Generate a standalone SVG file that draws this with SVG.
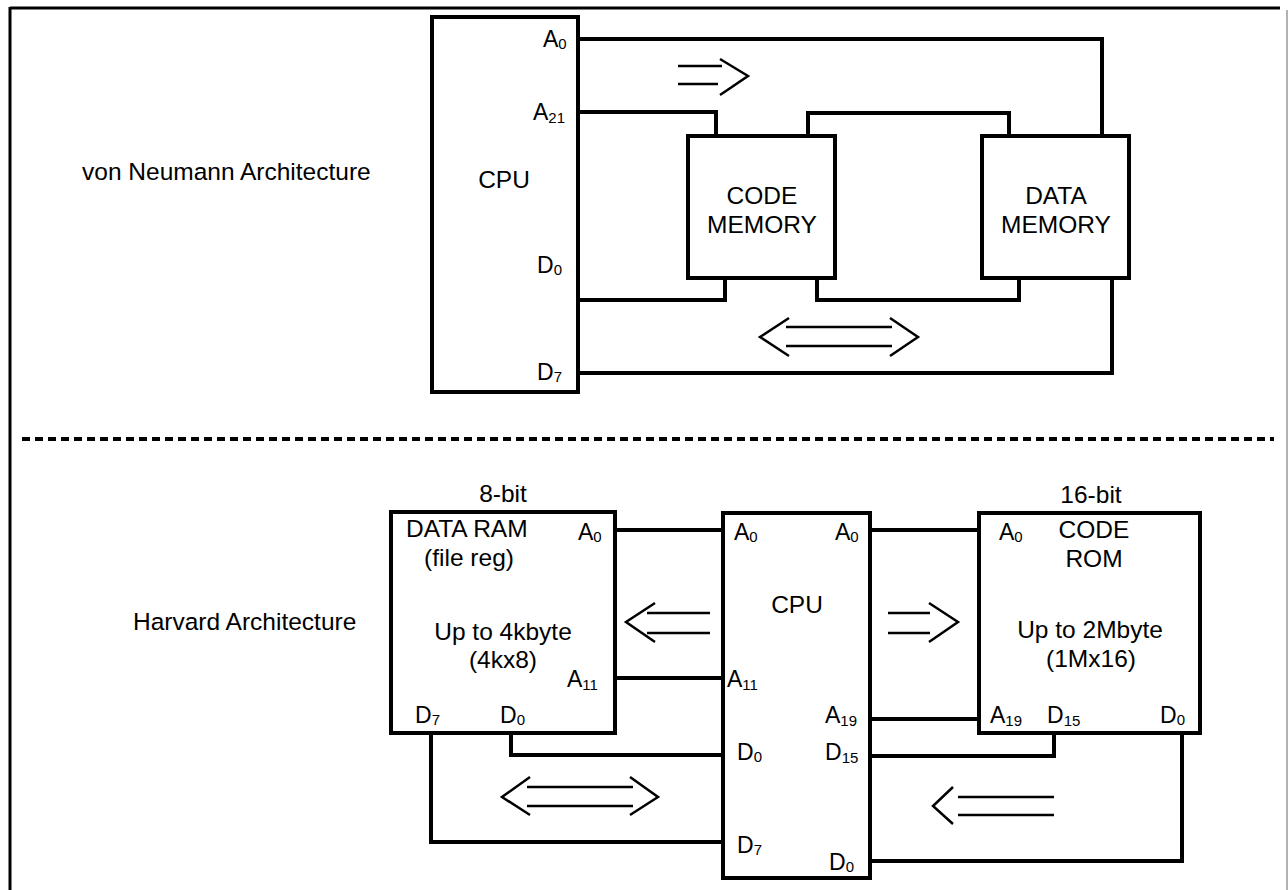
<svg xmlns="http://www.w3.org/2000/svg" width="1288" height="890" viewBox="0 0 1288 890">
<style>
  .box{fill:#fff;stroke:#000;stroke-width:4}
  .bus{fill:none;stroke:#000;stroke-width:4;stroke-linejoin:miter;stroke-linecap:square}
  .arr{fill:none;stroke:#000;stroke-width:2.5;stroke-linecap:butt;stroke-linejoin:miter}
  text{font-family:"Liberation Sans",Arial,sans-serif;fill:#000}
  .t{font-size:24.5px}
  .m{font-size:24.5px;text-anchor:middle}
  .p{font-size:23px}
  .s{font-size:15px}
</style>
<rect width="1288" height="890" fill="#fff"/>
<!-- frame -->
<g id="frame">
  <line x1="10" y1="8" x2="1280" y2="8" stroke="#000" stroke-width="3"/>
  <line x1="10" y1="7" x2="10" y2="890" stroke="#000" stroke-width="3"/>
  <line x1="1287" y1="10" x2="1287" y2="890" stroke="#999" stroke-width="1.5"/>
  <line x1="22" y1="439" x2="1274" y2="439" stroke="#000" stroke-width="4" stroke-dasharray="8 5"/>
</g>
<text class="t" x="82" y="180">von Neumann Architecture</text>
<text class="t" x="133" y="630">Harvard Architecture</text>

<!-- connectors -->
<g id="connectors">
  <!-- von Neumann -->
  <polyline class="bus" points="578,39 1102,39 1102,136"/>
  <polyline class="bus" points="578,112 716,112 716,136"/>
  <polyline class="bus" points="808,136 808,113 1009,113 1009,136"/>
  <polyline class="bus" points="578,300 725,300 725,278"/>
  <polyline class="bus" points="817,278 817,300 1019,300 1019,278"/>
  <polyline class="bus" points="578,373 1112,373 1112,278"/>
  <!-- Harvard -->
  <line class="bus" x1="615" y1="530" x2="723" y2="530"/>
  <line class="bus" x1="870" y1="530" x2="979" y2="530"/>
  <line class="bus" x1="615" y1="678" x2="723" y2="678"/>
  <polyline class="bus" points="511,733 511,755 723,755"/>
  <polyline class="bus" points="431,733 431,842 723,842"/>
  <line class="bus" x1="870" y1="719" x2="979" y2="719"/>
  <polyline class="bus" points="870,756 1054,756 1054,733"/>
  <polyline class="bus" points="870,861 1182,861 1182,733"/>
  <!-- direction arrows -->
  <g id="arrow-vn-addr">
    <line class="arr" x1="678" y1="66" x2="722" y2="66"/>
    <line class="arr" x1="678" y1="84" x2="718" y2="84"/>
    <polyline class="arr" points="720,59 748,76 720,95"/>
  </g>
  <g id="arrow-vn-data">
    <line class="arr" x1="786" y1="327" x2="892" y2="327"/>
    <line class="arr" x1="786" y1="346" x2="892" y2="346"/>
    <polyline class="arr" points="789,318 760,337 789,356"/>
    <polyline class="arr" points="890,318 918,337 890,356"/>
  </g>
  <g id="arrow-h-ram-addr">
    <line class="arr" x1="647" y1="613" x2="710" y2="613"/>
    <line class="arr" x1="647" y1="633" x2="710" y2="633"/>
    <polyline class="arr" points="655,603 626,622 655,642"/>
  </g>
  <g id="arrow-h-rom-addr">
    <line class="arr" x1="888" y1="613" x2="930" y2="613"/>
    <line class="arr" x1="888" y1="633" x2="930" y2="633"/>
    <polyline class="arr" points="929,603 958,622 929,642"/>
  </g>
  <g id="arrow-h-ram-data">
    <line class="arr" x1="527" y1="787" x2="633" y2="787"/>
    <line class="arr" x1="527" y1="806" x2="633" y2="806"/>
    <polyline class="arr" points="530,777 502,797 530,815"/>
    <polyline class="arr" points="630,777 658,797 630,815"/>
  </g>
  <g id="arrow-h-rom-data">
    <line class="arr" x1="958" y1="797" x2="1054" y2="797"/>
    <line class="arr" x1="958" y1="815" x2="1054" y2="815"/>
    <polyline class="arr" points="953,787 933,806 953,824"/>
  </g>
</g>

<!-- von Neumann nodes -->
<g id="vn-cpu">
  <rect class="box" x="432" y="17" width="146" height="375"/>
  <text class="m" x="504" y="188">CPU</text>
  <text class="p" x="543" y="47">A<tspan class="s" dy="2">0</tspan></text>
  <text class="p" x="533" y="120">A<tspan class="s" dy="3">21</tspan></text>
  <text class="p" x="537" y="273">D<tspan class="s" dy="2">0</tspan></text>
  <text class="p" x="537" y="380">D<tspan class="s" dy="2">7</tspan></text>
</g>
<g id="vn-code-memory">
  <rect class="box" x="688" y="136" width="147" height="142"/>
  <text class="m" x="762" y="204">CODE</text>
  <text class="m" x="762" y="233">MEMORY</text>
</g>
<g id="vn-data-memory">
  <rect class="box" x="982" y="136" width="147" height="142"/>
  <text class="m" x="1056" y="204">DATA</text>
  <text class="m" x="1056" y="233">MEMORY</text>
</g>

<!-- Harvard nodes -->
<g id="h-data-ram">
  <rect class="box" x="391" y="512" width="224" height="221"/>
  <text class="m" x="503" y="502">8-bit</text>
  <text class="t" x="406" y="537">DATA RAM</text>
  <text class="m" x="469" y="566">(file reg)</text>
  <text class="m" x="503" y="640">Up to 4kbyte</text>
  <text class="m" x="503" y="668">(4kx8)</text>
  <text class="p" x="578" y="540">A<tspan class="s" dy="2">0</tspan></text>
  <text class="p" x="567" y="687">A<tspan class="s" dy="3">11</tspan></text>
  <text class="p" x="415" y="723">D<tspan class="s" dy="2">7</tspan></text>
  <text class="p" x="500" y="723">D<tspan class="s" dy="2">0</tspan></text>
</g>
<g id="h-cpu">
  <rect class="box" x="723" y="513" width="147" height="365"/>
  <text class="m" x="797" y="613">CPU</text>
  <text class="p" x="734" y="540">A<tspan class="s" dy="2">0</tspan></text>
  <text class="p" x="835" y="540">A<tspan class="s" dy="2">0</tspan></text>
  <text class="p" x="727" y="687">A<tspan class="s" dy="3">11</tspan></text>
  <text class="p" x="737" y="760">D<tspan class="s" dy="2">0</tspan></text>
  <text class="p" x="737" y="853">D<tspan class="s" dy="2">7</tspan></text>
  <text class="p" x="825" y="723">A<tspan class="s" dy="3">19</tspan></text>
  <text class="p" x="825" y="760">D<tspan class="s" dy="3">15</tspan></text>
  <text class="p" x="829" y="870">D<tspan class="s" dy="2">0</tspan></text>
</g>
<g id="h-code-rom">
  <rect class="box" x="979" y="513" width="221" height="220"/>
  <text class="m" x="1091" y="503">16-bit</text>
  <text class="m" x="1094" y="538">CODE</text>
  <text class="m" x="1094" y="567">ROM</text>
  <text class="m" x="1090" y="638">Up to 2Mbyte</text>
  <text class="m" x="1091" y="667">(1Mx16)</text>
  <text class="p" x="999" y="540">A<tspan class="s" dy="2">0</tspan></text>
  <text class="p" x="990" y="723">A<tspan class="s" dy="3">19</tspan></text>
  <text class="p" x="1047" y="723">D<tspan class="s" dy="3">15</tspan></text>
  <text class="p" x="1160" y="723">D<tspan class="s" dy="2">0</tspan></text>
</g>
</svg>
